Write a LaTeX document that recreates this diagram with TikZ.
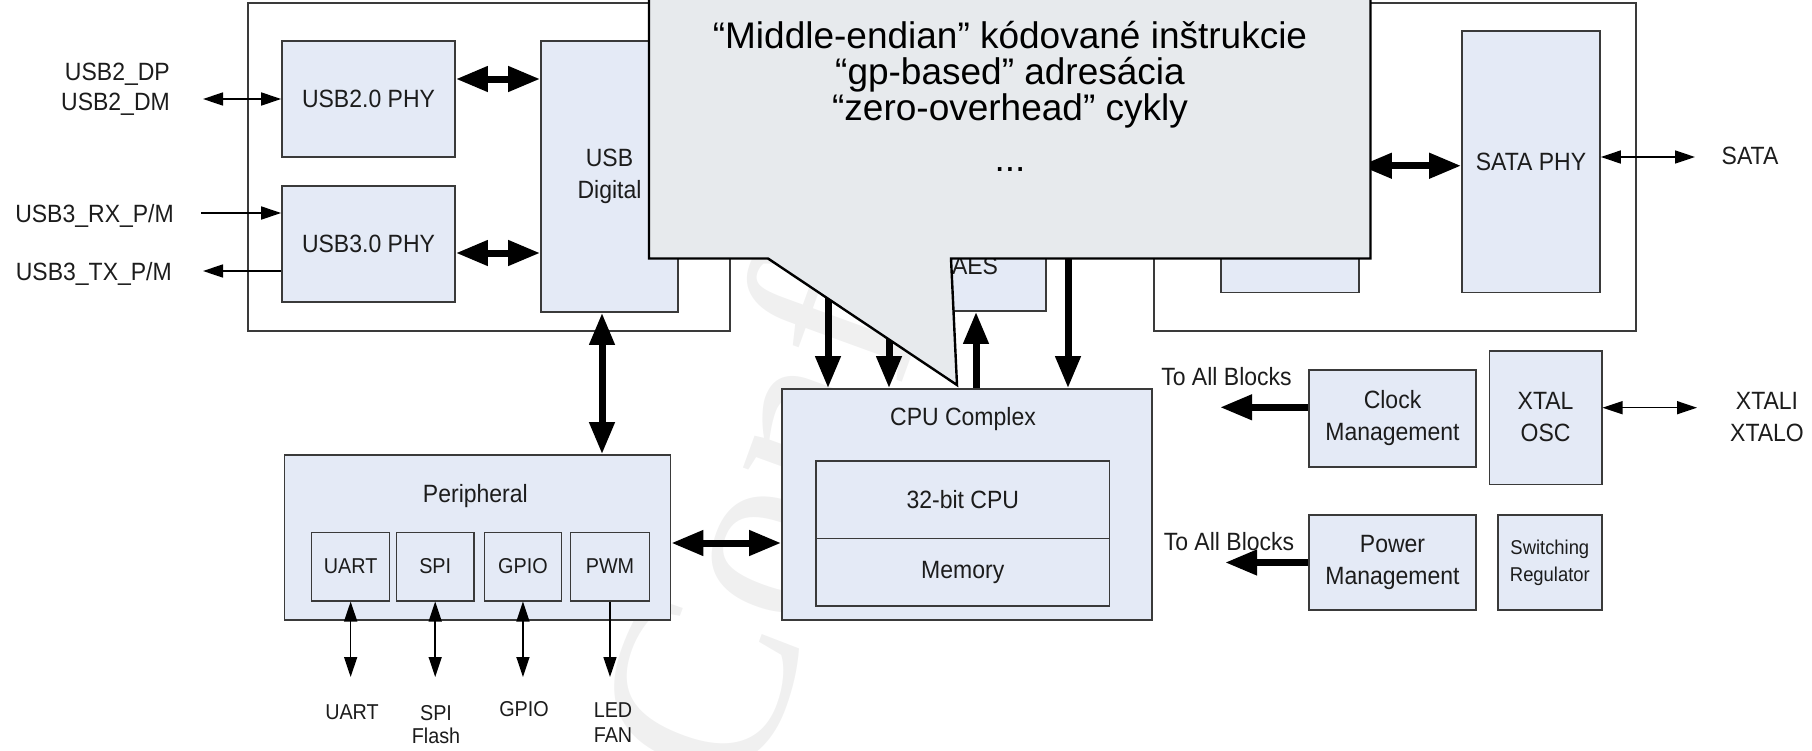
\documentclass[tikz,border=0pt]{standalone}
\usepackage{fontspec}
\setmainfont{Liberation Sans}
\newfontfamily\dgmfont{Liberation Sans}[FakeStretch=0.92]
\newfontfamily\wmfont{Liberation Serif}
\usetikzlibrary{arrows.meta,calc}

\definecolor{boxfill}{RGB}{228,234,246}
\definecolor{boxline}{RGB}{58,58,58}
\definecolor{calloutfill}{RGB}{231,234,237}
\definecolor{txt}{RGB}{28,28,28}

\tikzset{
  blk/.style={draw=boxline, fill=boxfill, line width=1.6pt, inner sep=0pt, align=center,
              font=\dgmfont\fontsize{25}{32}\selectfont, text=txt},
  frame/.style={draw=boxline, line width=1.6pt, inner sep=0pt},
  lbl/.style={inner sep=0pt, font=\dgmfont\fontsize{25}{30}\selectfont, text=txt},
  smalltxt/.style={font=\dgmfont\fontsize{21.5}{24}\selectfont},
  sig/.style={line width=1.5pt, draw=black, >={Triangle[length=20pt,width=13pt]}},
  bus/.style={line width=7pt, draw=black, >={Triangle[length=32pt,width=24pt]}},
  calltxt/.style={inner sep=0pt, anchor=base, font=\fontsize{37}{44}\selectfont, text=black},
  wm/.style={inner sep=0pt, rotate=70, text=black!6, font=\wmfont\fontsize{260}{260}\selectfont}
}

\begin{document}
\begin{tikzpicture}[x=1pt,y=-1pt]
\useasboundingbox (0,0) rectangle (1812,750);

% faint watermark behind the diagram
\node[wm, anchor=base west] (wmark) at (750,800) {Confidential};

% ---- USB subsystem ----
\node[frame, minimum width=482pt, minimum height=328pt] (uo) at (489,167) {};
\node[blk, minimum width=173pt, minimum height=116pt] (u2) at (368.5,99) {USB2.0 PHY};
\node[blk, minimum width=173pt, minimum height=116pt] (u3) at (368.5,244) {USB3.0 PHY};
\node[blk, minimum width=137pt, minimum height=271pt] (ud) at (609.5,176.5) {USB\\Digital};

\node[lbl, anchor=base east] (ldp) at (170,80.7) {USB2\_DP};
\node[lbl, anchor=base east] (ldm) at (170,110.7) {USB2\_DM};
\node[lbl, anchor=base east] (lrx) at (174,222) {USB3\_RX\_P/M};
\node[lbl, anchor=base east] (ltx) at (172,280) {USB3\_TX\_P/M};

\coordinate (p2) at (203,99);
\coordinate (prx) at (201,213);
\coordinate (ptx) at (203,271);
\draw[sig,<->] (p2) -- (u2.west);
\draw[sig,->] (prx) -- (prx -| u3.west);
\draw[sig,->] (ptx -| u3.west) -- (ptx);
\draw[bus,<->] ([yshift=20pt]u2.east) -- ([yshift=20pt]u2.east -| ud.west);
\draw[bus,<->] ([yshift=-9pt]u3.east) -- ([yshift=-9pt]u3.east -| ud.west);

% ---- crypto block ----
\node[blk, minimum width=142pt, minimum height=90pt] (aes) at (975,266) {AES};

% ---- SATA subsystem ----
\node[frame, minimum width=482pt, minimum height=328pt] (ro) at (1395,167) {};
\node[blk, minimum width=138pt, minimum height=261.5pt] (ri) at (1290,161.75) {};
\node[blk, minimum width=138pt, minimum height=261.5pt] (sp) at (1531,161.75) {SATA PHY};
\node[lbl, anchor=base] (lsata) at (1750,164) {SATA};
\coordinate (psata) at (1695,157);
\draw[bus,<->] ([yshift=-4pt]ri.east) -- ([yshift=-4pt]ri.east -| sp.west);
\draw[sig,<->] (psata -| sp.east) -- (psata);

% ---- CPU complex ----
\node[blk, minimum width=370pt, minimum height=231pt] (cpu) at (967,504.5) {};
\node[lbl, anchor=base] (cput) at (963,425) {CPU Complex};
\node[blk, minimum width=293.5pt, minimum height=77.6pt] (c32) at (962.75,499.5) {32-bit CPU};
\node[blk, minimum width=293.5pt, minimum height=67.7pt] (mem) at (962.75,572.15) {Memory};

% ---- peripherals ----
\node[blk, minimum width=386pt, minimum height=165pt] (per) at (477.45,537.5) {};
\node[lbl, anchor=base] (pert) at (475.4,502.7) {Peripheral};
\node[blk, smalltxt, minimum width=78pt, minimum height=68.4pt] (uart) at (350.65,566.5) {UART};
\node[blk, smalltxt, minimum width=77.6pt, minimum height=68.4pt] (spi) at (435.2,566.5) {SPI};
\node[blk, smalltxt, minimum width=77.3pt, minimum height=68.4pt] (gpio) at (522.95,566.5) {GPIO};
\node[blk, smalltxt, minimum width=79pt, minimum height=68.4pt] (pwm) at (610,566.5) {PWM};

\coordinate (ybot) at (0,677);
\draw[sig,<->] (uart.south) -- (uart.south |- ybot);
\draw[sig,<->] (spi.south) -- (spi.south |- ybot);
\draw[sig,<->] (gpio.south) -- (gpio.south |- ybot);
\draw[sig,->] (pwm.south) -- (pwm.south |- ybot);

\node[lbl, smalltxt, anchor=base] (luart) at (352,719.4) {UART};
\node[lbl, smalltxt, anchor=base] (lspi) at (436,720.4) {SPI};
\node[lbl, smalltxt, anchor=base] (lflash) at (436,743.7) {Flash};
\node[lbl, smalltxt, anchor=base] (lgpio) at (524,716) {GPIO};
\node[lbl, smalltxt, anchor=base] (lled) at (613,717.7) {LED};
\node[lbl, smalltxt, anchor=base] (lfan) at (613,742.7) {FAN};

% ---- buses to the CPU ----
\draw[bus,<->] ([xshift=-7.5pt]ud.south) -- ([xshift=-7.5pt]ud.south |- per.north);
\draw[bus,<->] ([yshift=-5.5pt]per.east) -- ([yshift=-5.5pt]per.east -| cpu.west);

\coordinate (s1) at (828,245);
\coordinate (s2) at (889,245);
\coordinate (s3) at (976,300);
\coordinate (s4) at (1068,245);
\draw[bus,->] (s1) -- (s1 |- cpu.north);
\draw[bus,->] (s2) -- (s2 |- cpu.north);
\draw[bus,->] (s3 |- cpu.north) -- (s3 |- aes.south);
\draw[bus,->] (s4) -- (s4 |- cpu.north);

% ---- clock and power ----
\node[blk, minimum width=167pt, minimum height=96.7pt] (clk) at (1392.5,418.35) {Clock\\Management};
\node[blk, minimum width=112.2pt, minimum height=133.6pt] (xt) at (1545.6,417.5) {XTAL\\OSC};
\node[blk, minimum width=167pt, minimum height=95pt] (pw) at (1392.5,562.5) {Power\\Management};
\node[blk, font=\dgmfont\fontsize{20}{27}\selectfont, minimum width=103.7pt, minimum height=95pt] (sw) at (1549.85,562.5) {Switching\\Regulator};

\node[lbl, anchor=base] (lall1) at (1226.5,385.6) {To All Blocks};
\node[lbl, anchor=base] (lall2) at (1229,550.6) {To All Blocks};
\node[lbl, anchor=base] (lxi) at (1767,409) {XTALI};
\node[lbl, anchor=base] (lxo) at (1767,441) {XTALO};

\coordinate (pclk) at (1220,407.3);
\coordinate (ppw) at (1225,562.5);
\coordinate (pxt) at (1697,407.7);
\draw[bus,->] (pclk -| clk.west) -- (pclk);
\draw[bus,->] (pw.west) -- (ppw);
\draw[sig,<->] (pxt -| xt.east) -- (pxt);

% ---- callout ----
\draw[fill=calloutfill, draw=black, line width=2.4pt, line join=miter]
  (649,-10) -- (1370.5,-10) -- (1370.5,258.5) -- (951,258.5) -- (957,385)
  -- (768,258.5) -- (649,258.5) -- cycle;
\node[calltxt] (ct1) at (1010,48) {“Middle-endian” kódované inštrukcie};
\node[calltxt] (ct2) at (1010,84) {“gp-based” adresácia};
\node[calltxt] (ct3) at (1010,120) {“zero-overhead” cykly};
\node[calltxt] (ct4) at (1010,171) {...};
\end{tikzpicture}
\end{document}
